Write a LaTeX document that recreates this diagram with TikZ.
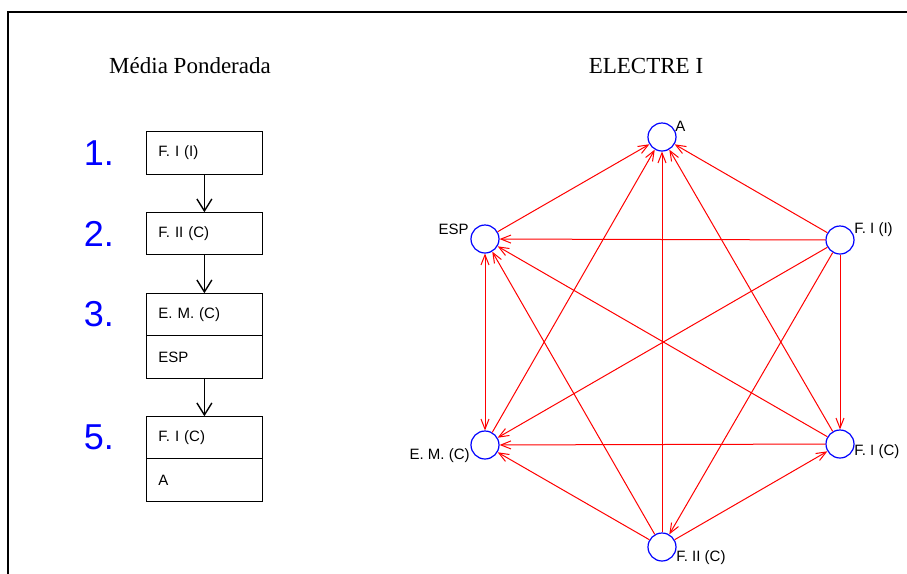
\documentclass[tikz,border=0pt]{standalone}
\usepackage{fontspec}
\setmainfont{Liberation Serif}
\setsansfont{Liberation Sans}
\usetikzlibrary{arrows.meta,positioning}

\begin{document}
\begin{tikzpicture}[x=0.5pt,y=-0.5pt,
  cell/.style={draw, line width=0.7pt, outer sep=0pt, minimum width=58pt, minimum height=21.25pt,
    text width=46pt, inner xsep=6pt, inner ysep=0pt, align=left, font=\sffamily\fontsize{7.5}{9}\selectfont},
  num/.style={blue, inner sep=0pt, font=\sffamily\fontsize{18}{20}\selectfont},
  flow/.style={line width=0.7pt, -{Straight Barb[length=6pt,width=7.5pt]}},
  alt/.style={draw=blue, line width=0.6pt, circle, minimum size=14pt, inner sep=0pt},
  lbl/.style={inner sep=0pt, font=\sffamily\fontsize{7.5}{9}\selectfont},
  rel/.style={red, line width=0.5pt, -{Straight Barb[length=5pt,width=4pt]}},
  both/.style={red, line width=0.5pt, {Straight Barb[length=5pt,width=4pt]}-{Straight Barb[length=5pt,width=4pt]}},
  title/.style={font=\fontsize{11.5}{14}\selectfont}]
  \useasboundingbox (0,0) rectangle (907,574);
  % rahmen
  \draw[line width=1pt] (8,574) -- (8,12) -- (907,12);
  % media ponderada
  \node[title] (tmp) at (190,66) {Média Ponderada};
  \node[cell] (c1) at (204.4,153) {F. I (I)};
  \node[cell] (c2) at (204.4,233.5) {F. II (C)};
  \node[cell] (c3a) at (204.4,314.5) {E. M. (C)};
  \node[cell, below=0pt of c3a] (c3b) {ESP};
  \node[cell] (c5a) at (204.4,437.5) {F. I (C)};
  \node[cell, below=0pt of c5a] (c5b) {A};
  \node[num, left=16pt of c1] (n1) {1.};
  \node[num, left=16pt of c2] (n2) {2.};
  \node[num, left=16pt of c3a] (n3) {3.};
  \node[num, left=16pt of c5a] (n5) {5.};
  \draw[flow] (c1) -- (c2);
  \draw[flow] (c2) -- (c3a);
  \draw[flow] (c3b) -- (c5a);
  % electre I
  \node[title] (tel) at (646,66) {ELECTRE I};
  \node[alt] (a) at (662,137) {};
  \node[alt] (esp) at (485,239) {};
  \node[alt] (fiI) at (840,240) {};
  \node[alt] (em) at (485,445) {};
  \node[alt] (fiC) at (840,444) {};
  \node[alt] (fiiC) at (662,547) {};
  \node[lbl, anchor=west] (la) at (675,126) {A};
  \node[lbl, anchor=east] (lesp) at (469,229) {ESP};
  \node[lbl, anchor=west] (lfiI) at (854,230) {F. I (I)};
  \node[lbl, anchor=east] (lem) at (470,456) {E. M. (C)};
  \node[lbl, anchor=west] (lfiC) at (854,452) {F. I (C)};
  \node[lbl, anchor=west] (lfiiC) at (676,558) {F. II (C)};
  % relacoes
  \draw[rel] (esp) -- (a);
  \draw[rel] (fiI) -- (a);
  \draw[rel] (fiiC) -- (a);
  \draw[rel] (em) -- (a);
  \draw[rel] (fiC) -- (a);
  \draw[rel] (fiI) -- (esp);
  \draw[both] (esp) -- (em);
  \draw[rel] (fiC) -- (esp);
  \draw[rel] (fiiC) -- (esp);
  \draw[rel] (fiI) -- (em);
  \draw[rel] (fiC) -- (em);
  \draw[rel] (fiiC) -- (em);
  \draw[rel] (fiI) -- (fiC);
  \draw[rel] (fiiC) -- (fiC);
  \draw[rel] (fiI) -- (fiiC);
\end{tikzpicture}
\end{document}
